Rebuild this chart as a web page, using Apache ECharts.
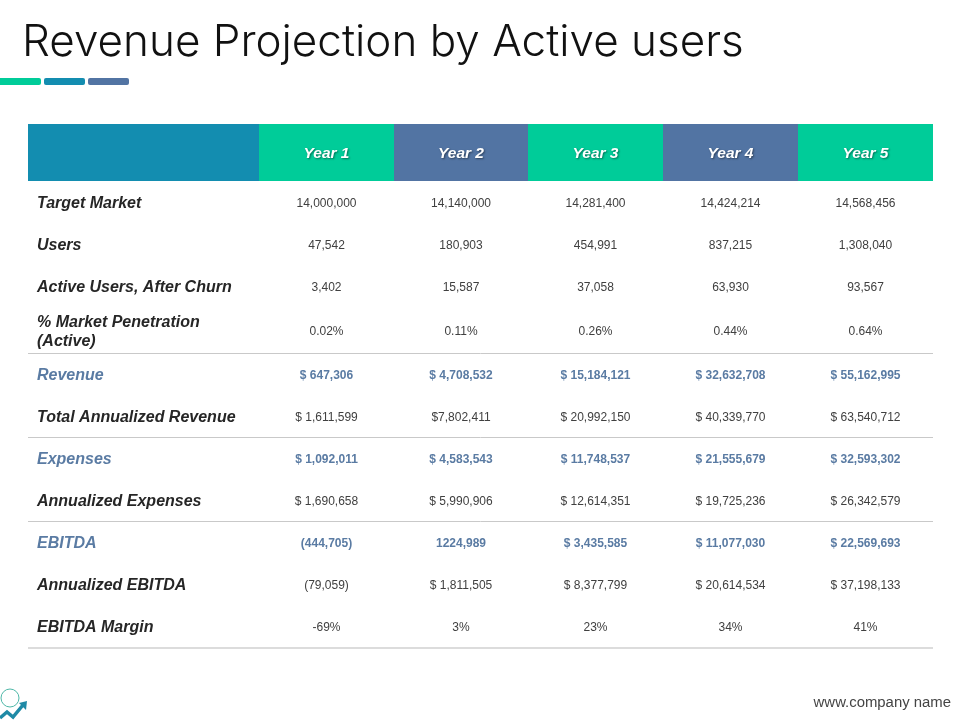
<!DOCTYPE html>
<html>
<head>
<meta charset="utf-8">
<title>Revenue Projection by Active users</title>
<script src="https://cdn.jsdelivr.net/npm/echarts@6/dist/echarts.min.js"></script>
<style>
html, body {margin:0; padding:0; background:#fff;}
#main {width:960px; height:720px;}
</style>
</head>
<body>
<div id="main"></div>
<script>
var years = ['Year 1','Year 2','Year 3','Year 4','Year 5'];
var rowLabels = ['Target Market','Users','Active Users, After Churn','% Market Penetration\n(Active)','Revenue','Total Annualized Revenue','Expenses','Annualized Expenses','EBITDA','Annualized EBITDA','EBITDA Margin'];
var targetMarket = ['14,000,000','14,140,000','14,281,400','14,424,214','14,568,456'];
var users = ['47,542','180,903','454,991','837,215','1,308,040'];
var activeUsers = ['3,402','15,587','37,058','63,930','93,567'];
var penetration = ['0.02%','0.11%','0.26%','0.44%','0.64%'];
var revenue = ['$ 647,306','$ 4,708,532','$ 15,184,121','$ 32,632,708','$ 55,162,995'];
var annualRevenue = ['$ 1,611,599','$7,802,411','$ 20,992,150','$ 40,339,770','$ 63,540,712'];
var expenses = ['$ 1,092,011','$ 4,583,543','$ 11,748,537','$ 21,555,679','$ 32,593,302'];
var annualExpenses = ['$ 1,690,658','$ 5,990,906','$ 12,614,351','$ 19,725,236','$ 26,342,579'];
var ebitda = ['(444,705)','1224,989','$ 3,435,585','$ 11,077,030','$ 22,569,693'];
var annualEbitda = ['(79,059)','$ 1,811,505','$ 8,377,799','$ 20,614,534','$ 37,198,133'];
var ebitdaMargin = ['-69%','3%','23%','34%','41%'];

var rows = [targetMarket,users,activeUsers,penetration,revenue,annualRevenue,expenses,annualExpenses,ebitda,annualEbitda,ebitdaMargin];

// table layout, in axis units
var colEdges = [0,231,366,500,635,770,905];
var rowEdges = [59,101,143,185,231,273,315,357,399,441,483,525];
var ruleEdges = [229.5,313.5,397.5,524];
var headerBottom = 57;
var accentRows = [4,6,8];

var GREEN = '#00cc99', TEAL = '#138db0', SLATE = '#5274a3';
var FONT = '"Liberation Sans", Arial, sans-serif';

function cellText(x, y, text, align, size, weight, italic, color) {
	return {
		type: 'text',
		style: {
			x: x, y: y, text: text, align: align, verticalAlign: 'middle',
			fontFamily: FONT, fontSize: size, fontWeight: weight,
			fontStyle: italic ? 'italic' : 'normal', lineHeight: 19, fill: color
		}
	};
}

var headerData = [''].concat(years).map(function (y, i) { return [i]; });
var labelData = rowLabels.map(function (l, i) { return [i]; });
var bodyData = [];
rows.forEach(function (r, i) {
	r.forEach(function (v, j) { bodyData.push([j, i]); });
});

var option = {
	animation: false,
	backgroundColor: '#fff',
	title: [
		{text: 'Revenue Projection by Active users', left: 17, top: 16,
			textStyle: {fontFamily: 'Inter', fontWeight: 300, fontSize: 44, color: '#111'}},
		{text: 'www.company name', right: 4, top: 690,
			textStyle: {fontFamily: FONT, fontWeight: 'normal', fontSize: 14.9, color: '#444'}}
	],
	grid: {left: 28, right: 27, top: 124, bottom: 72},
	xAxis: {type: 'value', min: 0, max: 905, show: false},
	yAxis: {type: 'value', min: 0, max: 524, inverse: true, show: false},
	graphic: [
		{type: 'rect', shape: {x: -4, y: 78, width: 45, height: 7, r: 2}, style: {fill: GREEN}},
		{type: 'rect', shape: {x: 44, y: 78, width: 41, height: 7, r: 2}, style: {fill: TEAL}},
		{type: 'rect', shape: {x: 88, y: 78, width: 41, height: 7, r: 2}, style: {fill: SLATE}},
		{type: 'circle', shape: {cx: 10, cy: 698, r: 9}, style: {fill: '#fff', stroke: '#4fb8a8', lineWidth: 1}},
		{type: 'polyline', shape: {points: [[0,718],[7,712],[13,717],[23,705]]}, style: {fill: 'none', stroke: '#1f8aa6', lineWidth: 3.5}},
		{type: 'polygon', shape: {points: [[19,703],[27,701],[26,710]]}, style: {fill: '#1f8aa6'}}
	],
	series: [
		{
			type: 'custom', name: 'header', silent: true, clip: false,
			data: headerData,
			renderItem: function (params, api) {
				var i = api.value(0);
				var p0 = api.coord([colEdges[i], 0]);
				var p1 = api.coord([colEdges[i + 1], headerBottom]);
				var fill = i == 0 ? TEAL : (i % 2 ? GREEN : SLATE);
				var kids = [{type: 'rect', shape: {x: p0[0], y: p0[1], width: p1[0] - p0[0], height: p1[1] - p0[1]}, style: {fill: fill}}];
				if (i > 0) {
					kids.push({
						type: 'text',
						style: {
							x: (p0[0] + p1[0]) / 2, y: (p0[1] + p1[1]) / 2 + 1.5, text: years[i - 1], align: 'center', verticalAlign: 'middle',
							fontFamily: FONT, fontSize: 15.5, fontWeight: 'bold', fontStyle: 'italic', fill: '#fff',
							textShadowColor: 'rgba(0,0,0,0.45)', textShadowBlur: 2, textShadowOffsetX: 1, textShadowOffsetY: 1
						}
					});
				}
				return {type: 'group', children: kids};
			}
		},
		{
			type: 'custom', name: 'rules', silent: true, clip: false,
			data: ruleEdges.map(function (r) { return [r]; }),
			renderItem: function (params, api) {
				var r = api.value(0);
				var p0 = api.coord([0, r]);
				var p1 = api.coord([905, r]);
				var last = params.dataIndex == ruleEdges.length - 1;
				return {type: 'line', shape: {x1: p0[0], y1: p0[1], x2: p1[0], y2: p1[1]},
					style: {stroke: last ? '#dcdcdc' : '#c9c9c9', lineWidth: last ? 2 : 1}};
			}
		},
		{
			type: 'custom', name: 'labels', silent: true, clip: false,
			data: labelData,
			renderItem: function (params, api) {
				var i = api.value(0);
				var p = api.coord([9, (rowEdges[i] + rowEdges[i + 1]) / 2]);
				var accent = accentRows.indexOf(i) >= 0;
				return cellText(p[0], p[1], rowLabels[i], 'left', 16, 'bold', true, accent ? '#5a7ba3' : '#262626');
			}
		},
		{
			type: 'custom', name: 'values', silent: true, clip: false,
			data: bodyData,
			renderItem: function (params, api) {
				var c = api.value(0), r = api.value(1);
				var p = api.coord([(colEdges[c + 1] + colEdges[c + 2]) / 2, (rowEdges[r] + rowEdges[r + 1]) / 2]);
				var accent = accentRows.indexOf(r) >= 0;
				return cellText(p[0], p[1], rows[r][c], 'center', 12, accent ? 'bold' : 'normal', false, accent ? '#5a7ba3' : '#404040');
			}
		}
	]
};

var myChart = echarts.init(document.getElementById('main'));
myChart.setOption(option);
</script>
</body>
</html>
